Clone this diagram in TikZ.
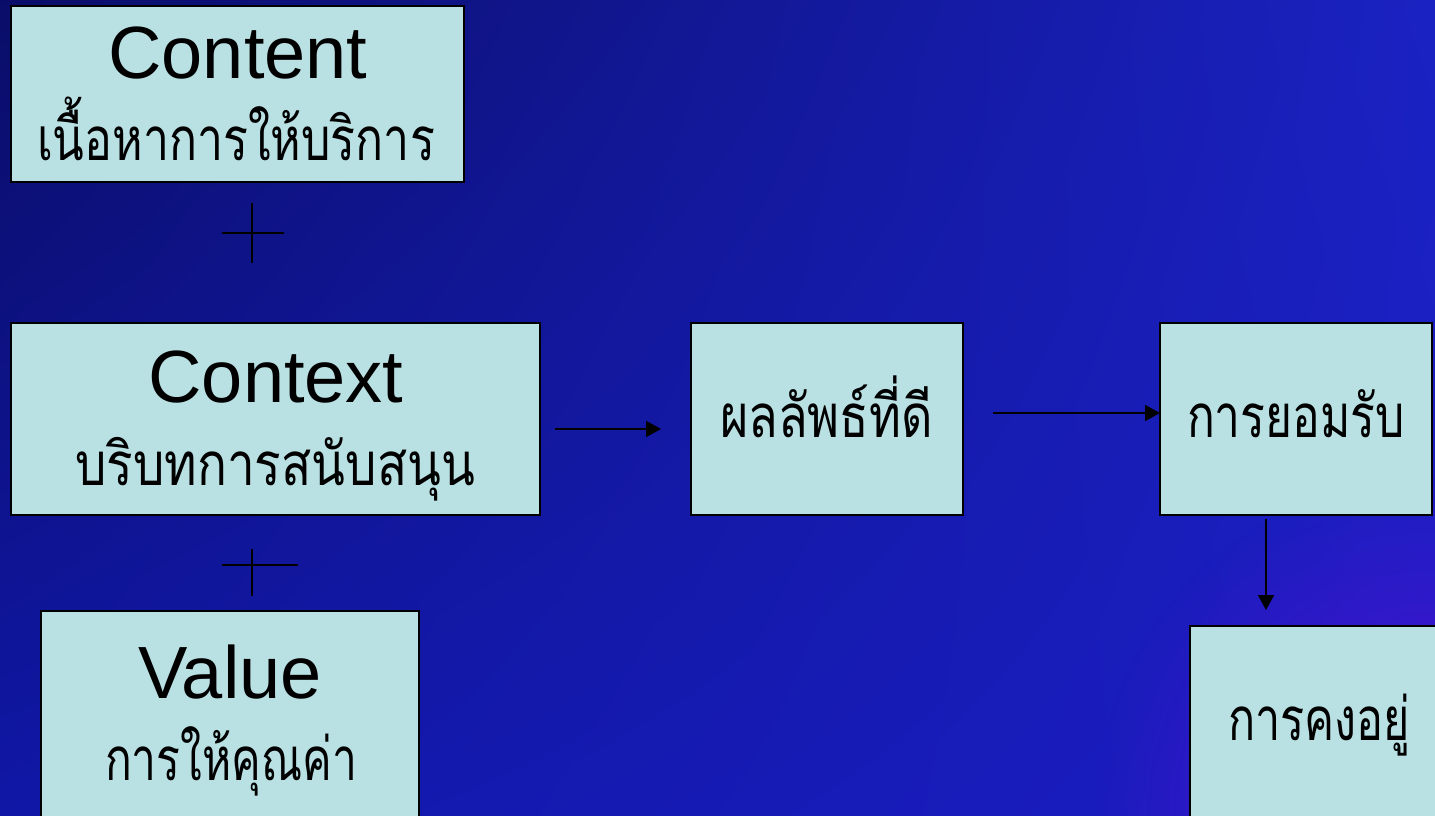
\documentclass[tikz,border=0pt]{standalone}
\usepackage{fontspec}
\setmainfont{Liberation Sans}
\newfontfamily\thaifont[Script=Thai]{Loma}
\usetikzlibrary{arrows.meta,calc,fadings,shadings}
\definecolor{boxfill}{HTML}{B9E0E3}
\definecolor{bgA}{HTML}{0A0D68}
\definecolor{bgB}{HTML}{1A22C2}
\definecolor{bgC}{HTML}{1017A6}
\definecolor{bgD}{HTML}{1C1EC4}
\definecolor{purp}{HTML}{5010D4}
\tikzfading[name=cornerfade, inner color=transparent!0, outer color=transparent!100]
\newsavebox\thbox
\newcommand\fitto[2]{\sbox\thbox{#2}\scalebox{\fpeval{#1/\wd\thbox}}[1]{\usebox\thbox}}
\tikzset{
  box/.style={draw=black, line width=1.8pt, fill=boxfill, rectangle, inner sep=0pt, outer sep=0pt},
  en/.style={anchor=base, inner sep=0pt, font=\fontsize{74}{80}\selectfont},
  th/.style={anchor=base, inner sep=0pt, font=\thaifont\fontsize{60}{66}\selectfont},
  arr/.style={line width=1.8pt, -{Triangle[length=15pt,width=16pt]}},
  plusline/.style={line width=1.8pt}
}
\begin{document}
\begin{tikzpicture}[x=1pt,y=-1pt]
\useasboundingbox (0,0) rectangle (1435,815);
\clip (0,0) rectangle (1435,815);
\shade[upper left=bgA, upper right=bgB, lower left=bgC, lower right=bgD] (0,0) rectangle (1435,815);
\fill[purp, path fading=cornerfade] (1435,815) circle (340);
% boxes
\node[box, minimum width=453pt, minimum height=176pt] (content) at (237.5,94) {};
\node[box, minimum width=529pt, minimum height=192pt] (context) at (275.5,419) {};
\node[box, minimum width=378pt, minimum height=230pt] (value) at (230,726) {};
\node[box, minimum width=272pt, minimum height=192pt] (result) at (827,419) {};
\node[box, minimum width=272pt, minimum height=192pt] (accept) at (1296,419) {};
\node[box, minimum width=260pt, minimum height=220pt] (keep) at (1320,736) {};
% texts
\node[en] (contentEn) at (238,78) {Content};
\node[th] (contentTh) at (236,160) {\fitto{398pt}{เนื้อหาการให้บริการ}};
\node[en] (contextEn) at (276,402) {Context};
\node[th] (contextTh) at (275,485) {\fitto{400pt}{บริบทการสนับสนุน}};
\node[en] (valueEn) at (230,698) {Value};
\node[th] (valueTh) at (231,780) {\fitto{252pt}{การให้คุณค่า}};
\node[th] (resultTh) at (826.5,437) {\fitto{213pt}{ผลลัพธ์ที่ดี}};
\node[th] (acceptTh) at (1296,437) {\fitto{218pt}{การยอมรับ}};
\node[th] (keepTh) at (1319,740) {\fitto{182pt}{การคงอยู่}};
% plus signs
\coordinate (p1) at (252,233);
\draw[plusline] ($(p1)+(-30,0)$) -- ($(p1)+(32,0)$);
\draw[plusline] ($(p1)+(0,-30)$) -- ($(p1)+(0,30)$);
\coordinate (p2) at (252,565);
\draw[plusline] ($(p2)+(-30,0)$) -- ($(p2)+(46,0)$);
\draw[plusline] ($(p2)+(0,-16)$) -- ($(p2)+(0,31)$);
% arrows
\draw[arr] ($(context.east)+(15,10)$) -- ($(result.west)+(-30,10)$);
\draw[arr] ($(result.east)+(30,-6)$) -- ($(accept.west)+(0,-6)$);
\draw[arr] ($(accept.south)+(-30,4)$) -- ($(keep.north west)+(76,-16)$);
\end{tikzpicture}
\end{document}
